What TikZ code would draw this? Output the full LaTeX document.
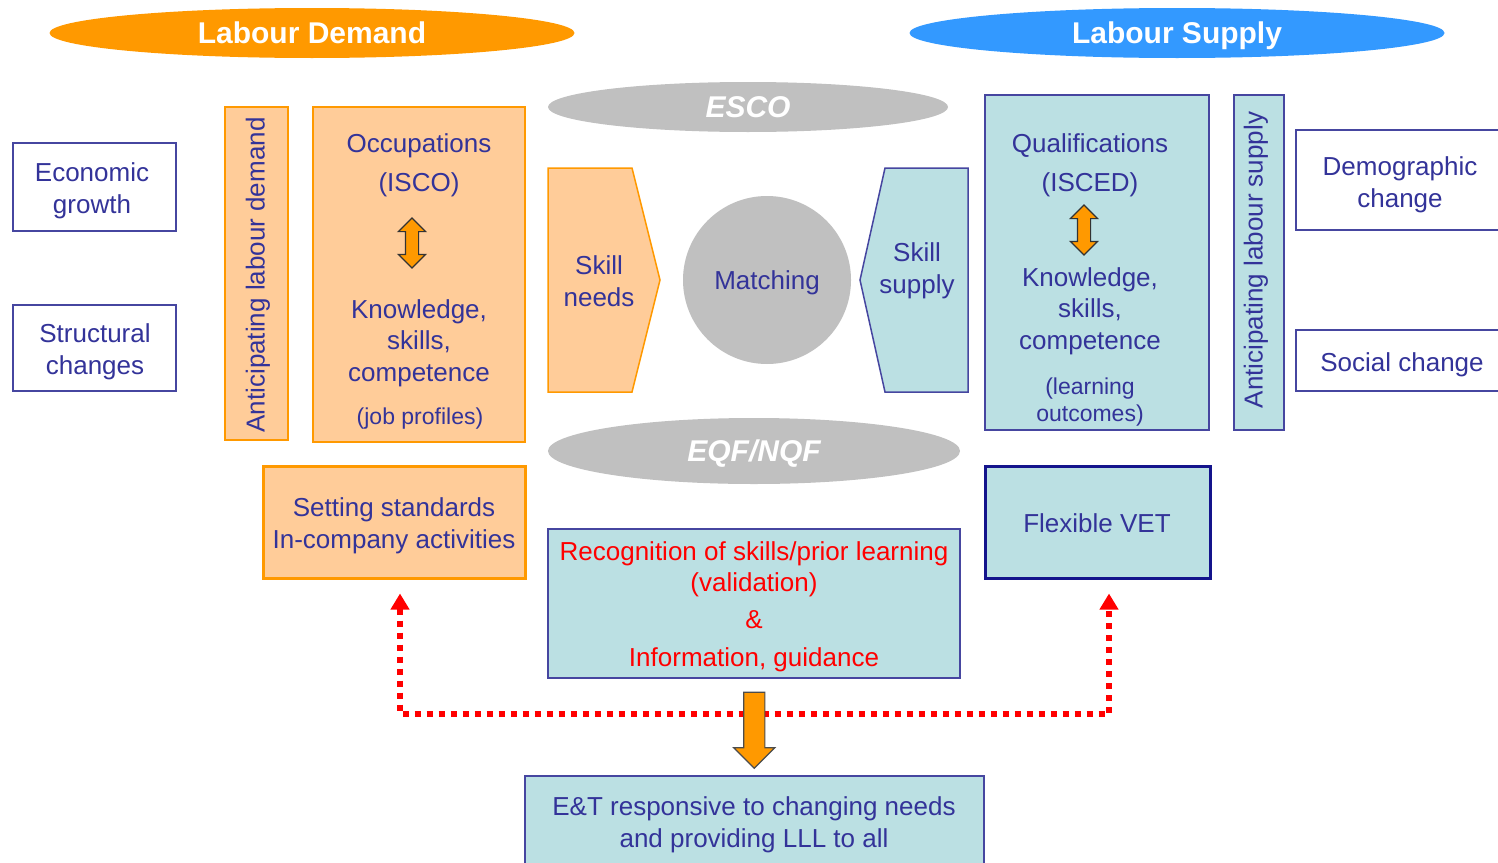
\documentclass[tikz,border=0pt]{standalone}
\usepackage{fontspec}
\setmainfont{Liberation Sans}
\usetikzlibrary{shapes.geometric,shapes.arrows,arrows.meta,calc}

\definecolor{txtblue}{RGB}{51,51,153}
\definecolor{boxblue}{RGB}{70,70,160}
\definecolor{navyline}{RGB}{20,20,140}
\definecolor{peach}{RGB}{255,204,153}
\definecolor{orangeline}{RGB}{255,153,0}
\definecolor{arroworange}{RGB}{255,153,0}
\definecolor{tealfill}{RGB}{187,224,227}
\definecolor{ovalgrey}{RGB}{192,192,192}
\definecolor{supplyblue}{RGB}{51,153,255}

\begin{document}
\begin{tikzpicture}[x=1pt,y=-1pt,font=\fontsize{26}{31.5}\selectfont,text=txtblue]
    \tikzstyle{box}=[rectangle,inner sep=0pt,line width=1.5pt]
    \tikzstyle{demand box}=[box,fill=peach,draw=orangeline]
    \tikzstyle{supply box}=[box,fill=tealfill,draw=boxblue]
    \tikzstyle{driver box}=[box,fill=white,draw=boxblue]
    \tikzstyle{annot}=[align=center,inner sep=0pt,yshift=-3pt]
    \tikzstyle{small annot}=[annot,font=\fontsize{23}{27}\selectfont]
    \tikzstyle{head oval}=[ellipse,inner sep=0pt,text=white,text height=21.5pt,text depth=0pt,
        font=\fontsize{30}{36}\selectfont\bfseries]
    \tikzstyle{grey oval}=[head oval,fill=ovalgrey,font=\fontsize{30}{36}\selectfont\bfseries\itshape]
    \tikzstyle{ksc arrow}=[double arrow,shape border rotate=90,fill=arroworange,draw=black!80,line width=1.2pt,
        inner sep=6pt,minimum height=50pt,double arrow head extend=7pt]
    \tikzstyle{flow arrow}=[single arrow,shape border rotate=270,fill=arroworange,draw=black!70,line width=1.2pt,
        inner sep=10pt,minimum height=76pt,single arrow head extend=10pt]
    \tikzstyle{feedback}=[draw=red,line width=6pt,dash pattern=on 6pt off 6pt,
        arrows={Triangle[width=18pt,length=16pt]-Triangle[width=18pt,length=16pt]}]

    \useasboundingbox (0,0) rectangle (1498,862);
    \clip (0,0) rectangle (1498,862);
    \fill[white] (0,0) rectangle (1498,862);

    % Headline ovals
    \node[head oval,fill=orangeline,minimum width=525pt,minimum height=50pt] (demand) at (312,33) {Labour Demand};
    \node[head oval,fill=supplyblue,minimum width=535pt,minimum height=50pt] (supply) at (1177,33) {Labour Supply};
    \node[grey oval,minimum width=400pt,minimum height=50pt] (esco) at (748,107) {ESCO};
    \node[grey oval,minimum width=412pt,minimum height=66pt] (eqf) at (754,451) {EQF/NQF};

    % Drivers on both sides
    \node[driver box,minimum width=163pt,minimum height=88pt] (econ) at (94.5,187) {};
    \node[annot] at (92,188) {Economic\\growth};
    \node[driver box,minimum width=163pt,minimum height=86pt] (struct) at (94.5,348) {};
    \node[annot] at (95,349) {Structural\\changes};
    \node[driver box,minimum width=224pt,minimum height=100pt] (demo) at (1408,180) {};
    \node[annot] at (1400,182) {Demographic\\change};
    \node[driver box,minimum width=224pt,minimum height=61pt] (social) at (1408,360.5) {};
    \node[annot] at (1402,362) {Social change};

    % Demand side
    \node[demand box,minimum width=63pt,minimum height=333pt] (antdem) at (256.5,273.5) {};
    \node[align=center,inner sep=0pt,rotate=90] at (258,275) {Anticipating labour demand};
    \node[demand box,minimum width=212pt,minimum height=335pt] (occ) at (419,274.5) {};
    \node[annot,font=\fontsize{26}{39}\selectfont] (occ-top) at (419,162) {Occupations\\(ISCO)};
    \node[ksc arrow] (occ-arrow) at (412,243) {};
    \node[annot] (occ-ksc) at (419,340) {Knowledge,\\skills,\\competence};
    \node[small annot] (occ-note) at (420,416) {(job profiles)};

    % Supply side
    \node[supply box,minimum width=224pt,minimum height=335pt] (qual) at (1097,262.5) {};
    \node[annot,font=\fontsize{26}{39}\selectfont] (qual-top) at (1090,162) {Qualifications\\(ISCED)};
    \node[ksc arrow] (qual-arrow) at (1084,230) {};
    \node[annot] (qual-ksc) at (1090,308) {Knowledge,\\skills,\\competence};
    \node[small annot] (qual-note) at (1090,399) {(learning\\outcomes)};
    \node[supply box,minimum width=50pt,minimum height=335pt] (antsup) at (1259,262.5) {};
    \node[align=center,inner sep=0pt,rotate=90] at (1256,260) {Anticipating labour supply};

    % Matching in the middle
    \draw[fill=peach,draw=orangeline,line width=1.5pt] (548,168) -- (632,168) -- (660,280) -- (632,392) -- (548,392) -- cycle;
    \node[annot] (needs) at (599,278) {Skill\\needs};
    \draw[fill=tealfill,draw=boxblue,line width=1.5pt] (968,168) -- (885,168) -- (860,280) -- (885,392) -- (968,392) -- cycle;
    \node[annot] (offer) at (917,268) {Skill\\supply};
    \node[circle,fill=ovalgrey,minimum size=168pt,inner sep=0pt,label={[annot]center:Matching}] (match) at (767,280) {};

    % Lower row
    \node[demand box,line width=3pt,minimum width=262pt,minimum height=112pt] (std) at (394,522) {};
    \node[annot] at (394,523) {Setting standards\\In-company activities};
    \node[supply box,minimum width=412pt,minimum height=149pt] (recog) at (754,603.5) {};
    \node[annot,text=red] at (754,604) {Recognition of skills/prior learning\\(validation)\\[5.5pt]\&\\[6.5pt]Information, guidance};
    \node[supply box,draw=navyline,line width=3pt,minimum width=225pt,minimum height=112pt] (vet) at (1097.5,522) {};
    \node[annot] at (1097,520) {Flexible VET};
    \node[supply box,minimum width=459pt,minimum height=104pt] (et) at (754.5,828) {};
    \node[annot,font=\fontsize{26}{32}\selectfont] at (754,822) {E\&T responsive to changing needs\\and providing LLL to all};

    % Feedback loop and result
    \coordinate (loop) at (754,714);
    \draw[feedback] ([xshift=6pt,yshift=-14pt]std.south) |- (loop) -| ([xshift=11.5pt,yshift=-14pt]vet.south);
    \node[flow arrow] (result) at ($(recog.south)!0.5!(et.north)+(0,-2)$) {};
\end{tikzpicture}
\end{document}
